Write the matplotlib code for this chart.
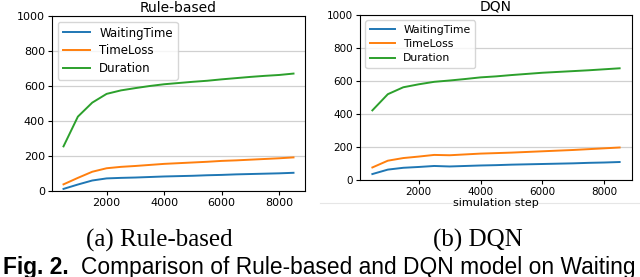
import numpy as np
import matplotlib
matplotlib.use("Agg")
import matplotlib.pyplot as plt
from matplotlib.lines import Line2D

# simulation steps (same for both runs)
steps = [500, 1000, 1500, 2000, 2500, 3000, 3500, 4000, 4500,
         5000, 5500, 6000, 6500, 7000, 7500, 8000, 8500]

# Rule-based controller
rb_waiting = [12, 37, 60, 72, 75, 77, 80, 83, 85, 87, 90, 92, 95, 97, 99, 101, 104]
rb_timeloss = [38, 75, 110, 130, 138, 143, 149, 155, 159, 163, 167, 172, 175, 179, 183, 187, 192]
rb_duration = [255, 425, 505, 555, 575, 588, 600, 610, 617, 624, 630, 638, 645, 652, 658, 663, 671]

# DQN controller
dqn_waiting = [36, 63, 74, 79, 85, 82, 85, 88, 90, 93, 95, 97, 99, 101, 104, 106, 109]
dqn_timeloss = [76, 117, 133, 142, 152, 150, 155, 160, 163, 166, 170, 174, 178, 182, 187, 192, 197]
dqn_duration = [422, 520, 562, 580, 595, 603, 612, 622, 628, 636, 643, 650, 655, 660, 665, 671, 677]

series_names = ["WaitingTime", "TimeLoss", "Duration"]
xticks = [2000, 4000, 6000, 8000]
yticks = [0, 200, 400, 600, 800, 1000]

fig = plt.figure(figsize=(6.4, 2.77), dpi=100)

ax1 = fig.add_axes([52 / 640, 1 - 191 / 277, 253 / 640, 175 / 277])
ax2 = fig.add_axes([360 / 640, 1 - 180 / 277, 272 / 640, 165 / 277])


def draw_panel(ax, data, title, fs, legend_fs):
    for vals, name in zip(data, series_names):
        ax.plot(steps, vals, label=name, lw=1.4)
    ax.set_ylim(0, 1000)
    ax.set_yticks(yticks)
    ax.set_xticks(xticks)
    ax.tick_params(labelsize=fs, length=3, width=0.8, pad=2)
    ax.yaxis.grid(True, color="#d0d0d0", lw=0.9)
    ax.set_axisbelow(True)
    for s in ax.spines.values():
        s.set_linewidth(0.8)
    ax.set_title(title, fontsize=10, pad=3)
    ax.legend(loc="upper left", fontsize=legend_fs, handlelength=2.3,
              handletextpad=0.8, borderaxespad=0.5, labelspacing=0.4)


draw_panel(ax1, [rb_waiting, rb_timeloss, rb_duration], "Rule-based", 8, 8.5)
draw_panel(ax2, [dqn_waiting, dqn_timeloss, dqn_duration], "DQN", 7.5, 7.8)
ax2.set_xlabel("simulation step", fontsize=8, labelpad=1)

# faint seam under the right panel
fig.add_artist(Line2D([320 / 640, 1.0], [1 - 203 / 277, 1 - 203 / 277],
                      color="#e6e6e6", lw=0.8, zorder=0))

# sub-captions
fig.text(159 / 640, 1 - 247 / 277, "(a) Rule-based", family="Liberation Serif",
         fontsize=18, ha="center", va="baseline")
fig.text(478 / 640, 1 - 247 / 277, "(b) DQN", family="Liberation Serif",
         fontsize=18, ha="center", va="baseline")

# figure caption (cut off at the bottom edge, as in the source)
fig.text(3 / 640, 1 - 274 / 277, "Fig. 2.", family="Liberation Sans",
         fontsize=16.4, weight="bold", ha="left", va="baseline")
fig.text(81 / 640, 1 - 274 / 277, "Comparison of Rule-based and DQN model on Waiting",
         family="Liberation Sans", fontsize=16.4, ha="left", va="baseline")

fig.savefig("out.png", dpi=100)
